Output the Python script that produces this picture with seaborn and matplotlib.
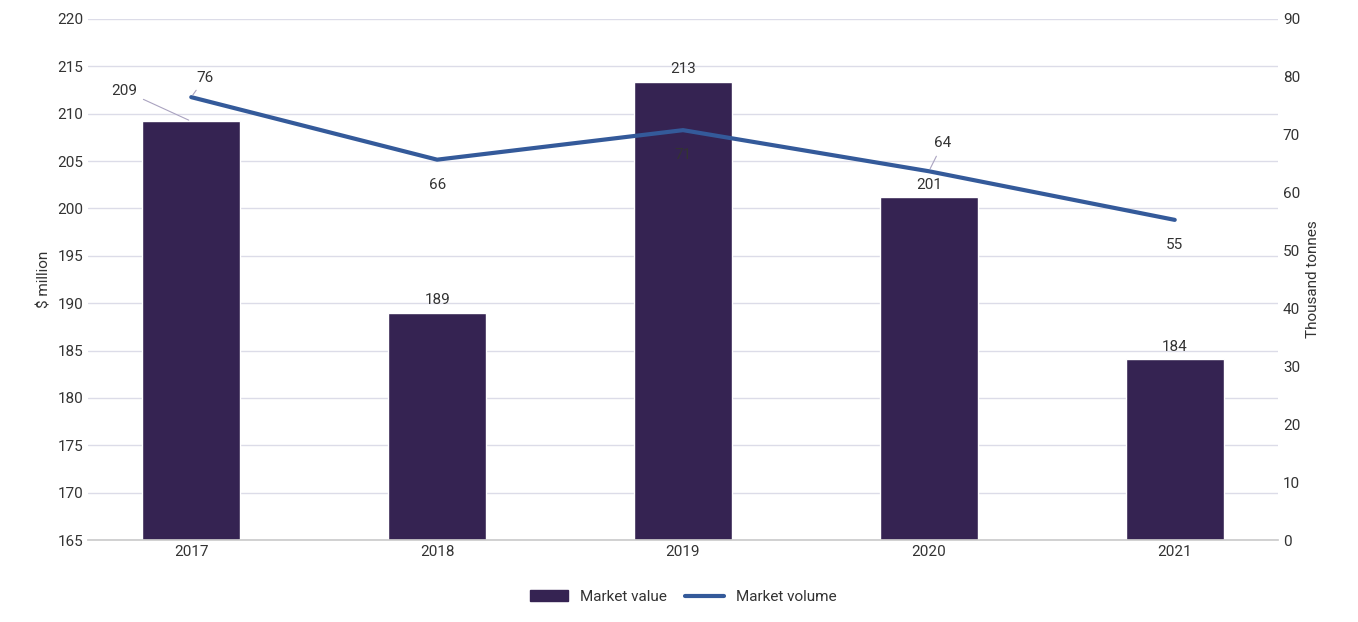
import matplotlib
matplotlib.use("Agg")
import matplotlib.pyplot as plt
import seaborn as sns
import pandas as pd

years = ["2017", "2018", "2019", "2020", "2021"]
market_value = [209.2, 189.0, 213.4, 201.2, 184.1]
market_volume = [76.5, 65.7, 70.8, 63.7, 55.3]
value_labels = ["209", "189", "213", "201", "184"]
volume_labels = ["76", "66", "71", "64", "55"]

sns.set_theme(style="white")
plt.rcParams['font.family'] = ['Roboto', 'DejaVu Sans']
bar_c = "#352352"; line_c = "#345A9A"; txt = "#333333"

fig = plt.figure(figsize=(13.58, 6.22), dpi=100)
ax = fig.add_axes([88/1358, 1-540/622, (1278-88)/1358, (540-19)/622])
df = pd.DataFrame({"year": years, "value": market_value, "volume": market_volume})
sns.barplot(data=df, x="year", y="value", color=bar_c, width=0.4, ax=ax, saturation=1, zorder=2)
ax.set_ylim(165, 220)
ax.set_yticks(range(165, 221, 5))
ax.grid(axis="y", color="#dcdce8", lw=1, zorder=0)
ax.set_axisbelow(True)
ax.set_xlabel("")
ax.set_ylabel("$ million", fontsize=11, color=txt)
for s in ax.spines.values():
    s.set_visible(False)
ax.spines["bottom"].set_visible(True); ax.spines["bottom"].set_color("#cccccc")
ax.tick_params(axis="both", labelsize=11, colors=txt, length=0)

ax2 = ax.twinx()
sns.lineplot(x=range(5), y=market_volume, color=line_c, lw=3, ax=ax2)
ax2.set_ylim(0, 90)
ax2.set_yticks(range(0, 91, 10))
ax2.set_ylabel("Thousand tonnes", fontsize=11, color=txt)
for s in ax2.spines.values():
    s.set_visible(False)
ax2.tick_params(axis="y", labelsize=11, colors=txt, length=0)

# bar labels
offs = [None, (0, 8), (0, 8), (0, 8), (0, 8)]
for i, (v, l) in enumerate(zip(market_value, value_labels)):
    if i == 0:
        ax.annotate(l, xy=(i, v), xytext=(-48, 22), textcoords="offset points",
                    fontsize=11, color=txt, ha="center", va="center",
                    arrowprops=dict(arrowstyle="-", color="#aaa3c0", lw=0.8))
    else:
        ax.annotate(l, xy=(i, v), xytext=(0, 9), textcoords="offset points",
                    fontsize=11, color=txt, ha="center", va="center")
# line labels
lo = [(10, 14), (0, -18), (0, -18), (10, 20), (0, -18)]
for i, (v, l) in enumerate(zip(market_volume, volume_labels)):
    ap = dict(arrowstyle="-", color="#aaa3c0", lw=0.8) if i in (0, 3) else None
    ax2.annotate(l, xy=(i, v), xytext=lo[i], textcoords="offset points",
                 fontsize=11, color=txt, ha="center", va="center", arrowprops=ap)

from matplotlib.patches import Patch
from matplotlib.lines import Line2D
handles = [Patch(color=bar_c), Line2D([0], [0], color=line_c, lw=3)]
fig.legend(handles, ["Market value", "Market volume"], loc="center",
           bbox_to_anchor=(0.503, 1-597/622), ncol=2, frameon=False, fontsize=11,
           handlelength=2.5, handleheight=0.7, columnspacing=1.2, labelcolor=txt)
fig.savefig("out.png", dpi=100)
